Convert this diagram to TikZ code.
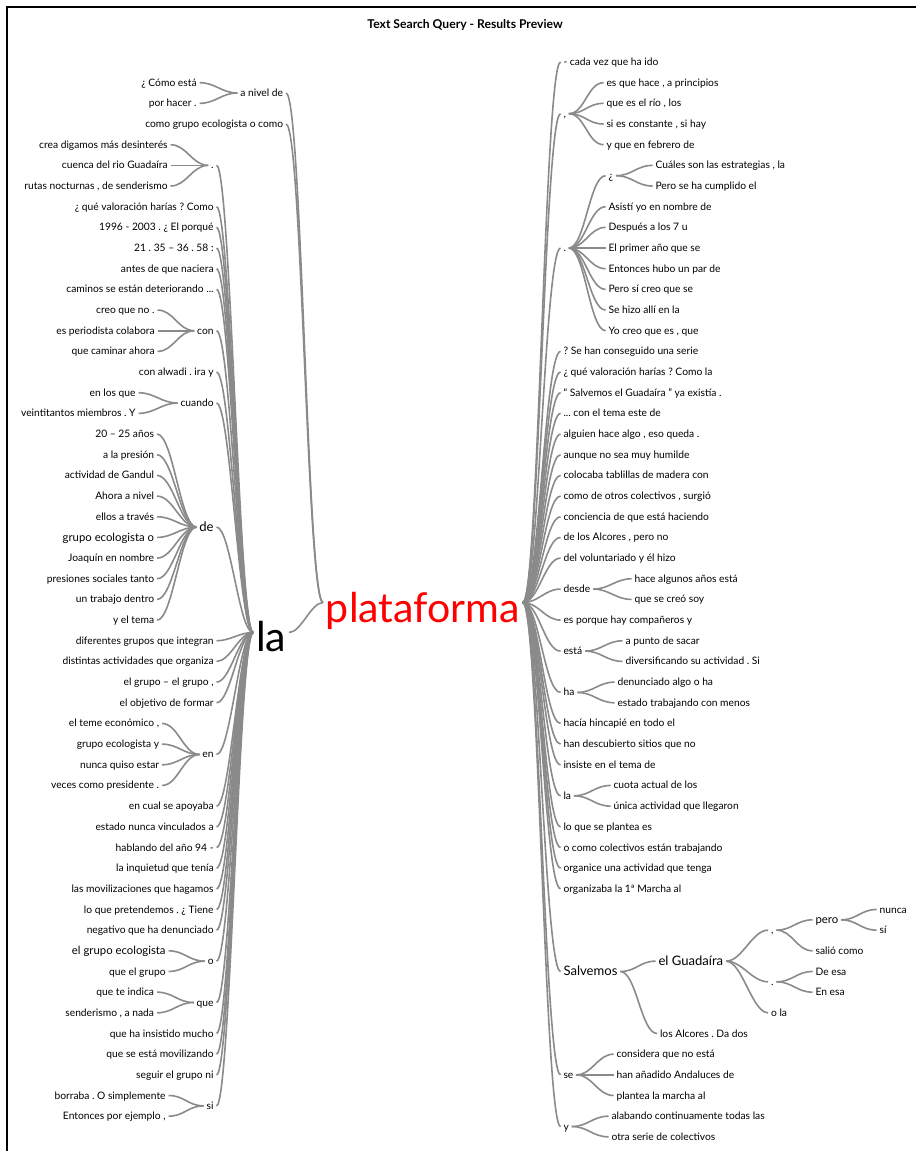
\documentclass[tikz,border=0pt]{standalone}
\usepackage{fontspec}
\setmainfont{Lato}
\frenchspacing
\definecolor{linkgray}{RGB}{138,138,138}
\tikzset{
  word/.style={font=\fontsize{7.7}{9}\selectfont, inner sep=2pt, text height=6.6pt, text depth=1.3pt},
  midword/.style={word, font=\fontsize{8.5}{10}\selectfont, text height=7.2pt, text depth=1.4pt},
  bigword/.style={word, font=\fontsize{9.8}{12}\selectfont, text height=8.3pt, text depth=1.6pt},
  keyword/.style={inner sep=2pt, font=\fontsize{30.8}{33}\selectfont, text height=35.4pt, text depth=6.2pt},
  link/.style={draw=linkgray, line width=1.2pt},
  lbr/.style={link, to path={.. controls +(-#1,0) and +(#1,0) .. (\tikztotarget)}},
  lbr/.default=16,
  rbr/.style={link, to path={.. controls +(#1,0) and +(-#1,0) .. (\tikztotarget)}},
  rbr/.default=16,
}
\begin{document}
\begin{tikzpicture}[x=0.75pt, y=-15.5pt]
% x in pixels, y in rows of the word tree
\useasboundingbox (0,-2) rectangle (916,53.685);
\draw[line width=0.8pt] (7,53.685) |- (916,-1.66);
\node[font=\bfseries\fontsize{9.1}{10}\selectfont] (title) at (465,-0.79) {Text Search Query - Results Preview};

% the two key words
\node[keyword, right, text=red] (plat) at (323,27.15) {plataforma};
\node[keyword, left] (la) at (289,28.6) {la};
\draw[rbr=12] (la.east) to (plat.west);

% ---- left of plataforma ----
\node[word, left] (Lniv) at (286,2.5) {a nivel de};
\draw[lbr] (plat.west) to (Lniv.east);
\foreach \r/\txt in {2/{¿ Cómo está}, 3/{por hacer .}} {
  \node[word, left] (L\r) at (199.5,\r) {\txt};
  \draw[lbr] (Lniv.west) to (L\r.east);
}
\node[word, left] (L4) at (286,4) {como grupo ecologista o como};
\draw[lbr] (plat.west) to (L4.east);

% single phrases after la
\foreach \r/\txt in {8/{¿ qué valoración harías ? Como}, 9/{1996 - 2003 . ¿ El porqué},
    10/{21 . 35 – 36 . 58 :}, 11/{antes de que naciera}, 12/{caminos se están deteriorando ...},
    16/{con alwadi . ira y}, 29/{diferentes grupos que integran}, 30/{distintas actividades que organiza},
    31/{el grupo – el grupo ,}, 32/{el objetivo de formar}, 37/{en cual se apoyaba},
    38/{estado nunca vinculados a}, 39/{hablando del año 94 -}, 40/{la inquietud que tenía},
    41/{las movilizaciones que hagamos}, 42/{lo que pretendemos . ¿ Tiene},
    43/{negativo que ha denunciado}, 48/{que ha insistido mucho}, 49/{que se está movilizando},
    50/{seguir el grupo ni}} {
  \node[word, left] (L\r) at (216.5,\r) {\txt};
  \draw[lbr=14] (la.west) to (L\r.east);
}

\node[word, left] (Ldot) at (216.5,6) {.};
\draw[lbr=14] (la.west) to (Ldot.east);
\foreach \r/\txt in {5/{crea digamos más desinterés}, 6/{cuenca del rio Guadaíra}, 7/{rutas nocturnas , de senderismo}} {
  \node[word, left] (L\r) at (170.5,\r) {\txt};
  \draw[lbr] (Ldot.west) to (L\r.east);
}

\node[word, left] (Lcon) at (216.5,14) {con};
\draw[lbr=14] (la.west) to (Lcon.east);
\foreach \r/\txt in {13/{creo que no .}, 14/{es periodista colabora}, 15/{que caminar ahora}} {
  \node[word, left] (L\r) at (157.5,\r) {\txt};
  \draw[lbr] (Lcon.west) to (L\r.east);
}

\node[word, left] (Lcuando) at (216.5,17.5) {cuando};
\draw[lbr=14] (la.west) to (Lcuando.east);
\foreach \r/\txt in {17/{en los que}, 18/{veintitantos miembros . Y}} {
  \node[word, left] (L\r) at (138.5,\r) {\txt};
  \draw[lbr] (Lcuando.west) to (L\r.east);
}

\node[bigword, left] (Lde) at (216.5,23.5) {de};
\draw[lbr=14] (la.west) to (Lde.east);
\foreach \r/\s/\txt in {19/word/{20 – 25 años}, 20/word/{a la presión}, 21/word/{actividad de Gandul},
    22/word/{Ahora a nivel}, 23/word/{ellos a través}, 24/midword/{grupo ecologista o},
    25/word/{Joaquín en nombre}, 26/word/{presiones sociales tanto}, 27/word/{un trabajo dentro},
    28/word/{y el tema}} {
  \node[\s, left] (L\r) at (157,\r) {\txt};
  \draw[lbr] (Lde.west) to (L\r.east);
}

\node[word, left] (Len) at (216.5,34.5) {en};
\draw[lbr=14] (la.west) to (Len.east);
\foreach \r/\txt in {33/{el teme económico ,}, 34/{grupo ecologista y}, 35/{nunca quiso estar}, 36/{veces como presidente .}} {
  \node[word, left] (L\r) at (162,\r) {\txt};
  \draw[lbr] (Len.west) to (L\r.east);
}

\node[word, left] (Lo) at (216.5,44.5) {o};
\draw[lbr=14] (la.west) to (Lo.east);
\foreach \r/\s/\txt in {44/midword/{el grupo ecologista}, 45/word/{que el grupo}} {
  \node[\s, left] (L\r) at (168.5,\r) {\txt};
  \draw[lbr] (Lo.west) to (L\r.east);
}

\node[word, left] (Lque) at (216.5,46.5) {que};
\draw[lbr=14] (la.west) to (Lque.east);
\foreach \r/\txt in {46/{que te indica}, 47/{senderismo , a nada}} {
  \node[word, left] (L\r) at (157,\r) {\txt};
  \draw[lbr] (Lque.west) to (L\r.east);
}

\node[word, left] (Lsi) at (216.5,51.5) {si};
\draw[lbr=14] (la.west) to (Lsi.east);
\foreach \r/\txt in {51/{borraba . O simplemente}, 52/{Entonces por ejemplo ,}} {
  \node[word, left] (L\r) at (168.5,\r) {\txt};
  \draw[lbr] (Lsi.west) to (L\r.east);
}

% ---- right of plataforma ----
\foreach \r/\txt in {1/{- cada vez que ha ido}, 15/{? Se han conseguido una serie},
    16/{¿ qué valoración harías ? Como la}, 17/{“ Salvemos el Guadaíra ” ya existía .},
    18/{... con el tema este de}, 19/{alguien hace algo , eso queda .}, 20/{aunque no sea muy humilde},
    21/{colocaba tablillas de madera con}, 22/{como de otros colectivos , surgió},
    23/{conciencia de que está haciendo}, 24/{de los Alcores , pero no}, 25/{del voluntariado y él hizo},
    28/{es porque hay compañeros y}, 33/{hacía hincapié en todo el}, 34/{han descubierto sitios que no},
    35/{insiste en el tema de}, 38/{lo que se plantea es}, 39/{o como colectivos están trabajando},
    40/{organice una actividad que tenga}, 41/{organizaba la 1ª Marcha al}} {
  \node[word, right] (R\r) at (560.5,\r) {\txt};
  \draw[rbr] (plat.east) to (R\r.west);
}

\node[word, right] (Rcomma) at (560.5,3.5) {,};
\draw[rbr] (plat.east) to (Rcomma.west);
\foreach \r/\txt in {2/{es que hace , a principios}, 3/{que es el río , los}, 4/{si es constante , si hay}, 5/{y que en febrero de}} {
  \node[word, right] (R\r) at (603.5,\r) {\txt};
  \draw[rbr] (Rcomma.east) to (R\r.west);
}

\node[word, right] (Rdot) at (560.5,10) {.};
\draw[rbr] (plat.east) to (Rdot.west);
\node[word, right] (Rq) at (605.5,6.5) {¿};
\draw[rbr] (Rdot.east) to (Rq.west);
\foreach \r/\txt in {6/{Cuáles son las estrategias , la}, 7/{Pero se ha cumplido el}} {
  \node[word, right] (R\r) at (652.5,\r) {\txt};
  \draw[rbr] (Rq.east) to (R\r.west);
}
\foreach \r/\txt in {8/{Asistí yo en nombre de}, 9/{Después a los 7 u}, 10/{El primer año que se},
    11/{Entonces hubo un par de}, 12/{Pero sí creo que se}, 13/{Se hizo allí en la}, 14/{Yo creo que es , que}} {
  \node[word, right] (R\r) at (605.5,\r) {\txt};
  \draw[rbr] (Rdot.east) to (R\r.west);
}

\node[word, right] (Rdesde) at (560.5,26.5) {desde};
\draw[rbr] (plat.east) to (Rdesde.west);
\foreach \r/\txt in {26/{hace algunos años está}, 27/{que se creó soy}} {
  \node[word, right] (R\r) at (631.5,\r) {\txt};
  \draw[rbr] (Rdesde.east) to (R\r.west);
}

\node[word, right] (Resta) at (560.5,29.5) {está};
\draw[rbr] (plat.east) to (Resta.west);
\foreach \r/\txt in {29/{a punto de sacar}, 30/{diversificando su actividad . Si}} {
  \node[word, right] (R\r) at (622.5,\r) {\txt};
  \draw[rbr] (Resta.east) to (R\r.west);
}

\node[word, right] (Rha) at (560.5,31.5) {ha};
\draw[rbr] (plat.east) to (Rha.west);
\foreach \r/\txt in {31/{denunciado algo o ha}, 32/{estado trabajando con menos}} {
  \node[word, right] (R\r) at (614.5,\r) {\txt};
  \draw[rbr] (Rha.east) to (R\r.west);
}

\node[word, right] (Rla) at (560.5,36.5) {la};
\draw[rbr] (plat.east) to (Rla.west);
\foreach \r/\txt in {36/{cuota actual de los}, 37/{única actividad que llegaron}} {
  \node[word, right] (R\r) at (610.5,\r) {\txt};
  \draw[rbr] (Rla.east) to (R\r.west);
}

% Salvemos el Guadaíra
\node[bigword, right] (Rsalv) at (560.5,45) {Salvemos};
\draw[rbr] (plat.east) to (Rsalv.west);
\node[bigword, right] (Rguad) at (655.5,44.5) {el Guadaíra};
\draw[rbr] (Rsalv.east) to (Rguad.west);
\node[word, right] (R48) at (657,48) {los Alcores . Da dos};
\draw[rbr] (Rsalv.east) to (R48.west);
\node[word, right] (Rcomma2) at (768,43) {,};
\node[word, right] (Rdot2) at (768,45.5) {.};
\node[word, right] (R47) at (768,47) {o la};
\foreach \n in {Rcomma2, Rdot2, R47}
  \draw[rbr] (Rguad.east) to (\n.west);
\node[midword, right] (Rpero) at (812.5,42.5) {pero};
\node[word, right] (R44) at (812.5,44) {salió como};
\draw[rbr] (Rcomma2.east) to (Rpero.west);
\draw[rbr] (Rcomma2.east) to (R44.west);
\node[word, right] (R42) at (876.5,42) {nunca};
\node[word, right] (R43) at (876.5,43) {sí};
\draw[rbr] (Rpero.east) to (R42.west);
\draw[rbr] (Rpero.east) to (R43.west);
\node[word, right] (R45) at (812.5,45) {De esa};
\node[word, right] (R46) at (812.5,46) {En esa};
\draw[rbr] (Rdot2.east) to (R45.west);
\draw[rbr] (Rdot2.east) to (R46.west);

\node[word, right] (Rse) at (560.5,50) {se};
\draw[rbr] (plat.east) to (Rse.west);
\foreach \r/\txt in {49/{considera que no está}, 50/{han añadido Andaluces de}, 51/{plantea la marcha al}} {
  \node[word, right] (R\r) at (613.5,\r) {\txt};
  \draw[rbr] (Rse.east) to (R\r.west);
}

\node[word, right] (Ry) at (560.5,52.5) {y};
\draw[rbr] (plat.east) to (Ry.west);
\foreach \r/\txt in {52/{alabando continuamente todas las}, 53/{otra serie de colectivos}} {
  \node[word, right] (R\r) at (608.5,\r) {\txt};
  \draw[rbr] (Ry.east) to (R\r.west);
}
\end{tikzpicture}
\end{document}
